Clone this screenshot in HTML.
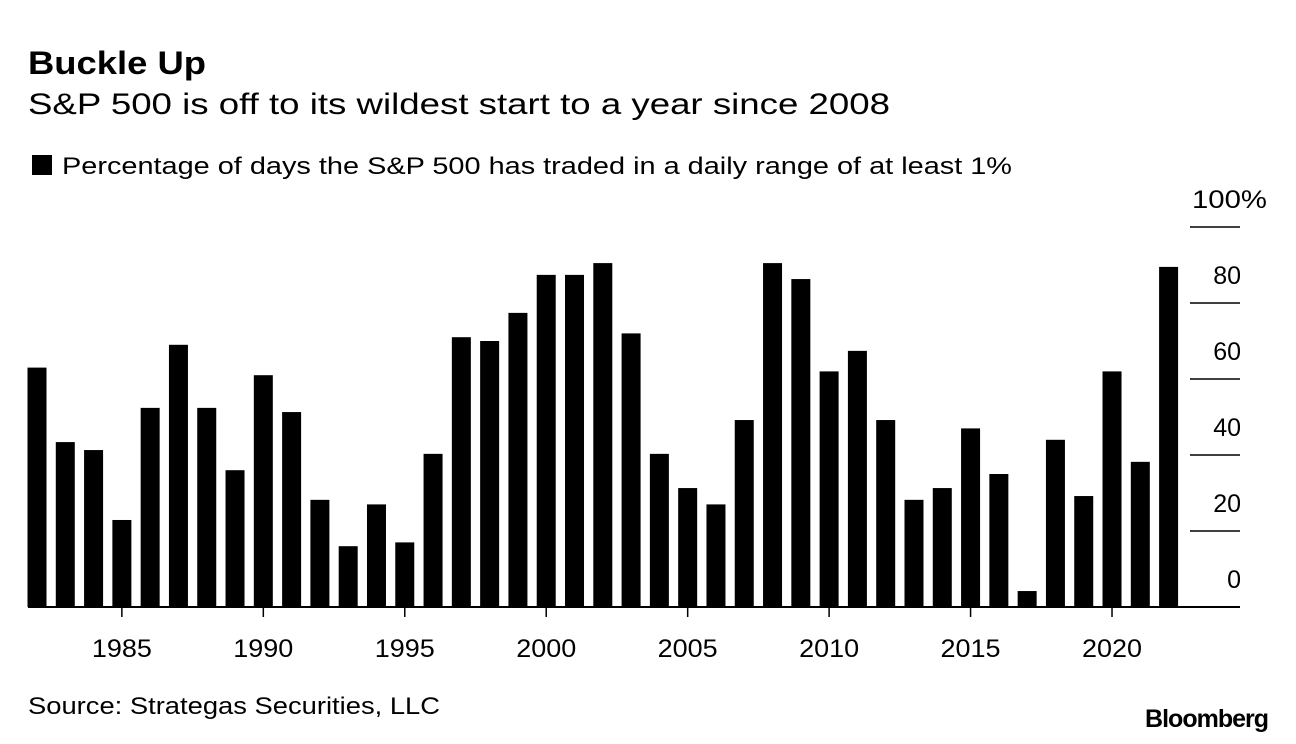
<!DOCTYPE html>
<html><head><meta charset="utf-8"><style>
body{margin:0;background:#fff;width:1296px;height:744px;overflow:hidden;font-family:"Liberation Sans",sans-serif;}
svg{display:block}
</style></head><body>
<svg id="c" width="1296" height="744">
<text x="28" y="74" font-size="32" font-weight="bold" fill="#000" textLength="178" lengthAdjust="spacingAndGlyphs">Buckle Up</text>
<text x="28" y="114" font-size="30" fill="#000" textLength="862" lengthAdjust="spacingAndGlyphs">S&amp;P 500 is off to its wildest start to a year since 2008</text>
<rect x="32" y="155" width="20" height="20" fill="#000"/>
<text x="62" y="174" font-size="24" fill="#000" textLength="950" lengthAdjust="spacingAndGlyphs">Percentage of days the S&amp;P 500 has traded in a daily range of at least 1%</text>
<text x="28" y="714" font-size="24" fill="#000" textLength="412" lengthAdjust="spacingAndGlyphs">Source: Strategas Securities, LLC</text>
<text x="1268" y="727" font-size="25" font-weight="bold" text-anchor="end" fill="#000" letter-spacing="-1">Bloomberg</text>
<g id="plot"></g>
</svg>
<script>
const years=[1982,1983,1984,1985,1986,1987,1988,1989,1990,1991,1992,1993,1994,1995,1996,1997,1998,1999,2000,2001,2002,2003,2004,2005,2006,2007,2008,2009,2010,2011,2012,2013,2014,2015,2016,2017,2018,2019,2020,2021,2022];
const values=[63,43.4,41.3,22.9,52.4,69,52.4,36,61,51.3,28.2,16,27,17,40.3,71,70,77.4,87.4,87.4,90.5,72,40.3,31.3,27,49.2,90.5,86.3,62,67.4,49.2,28.2,31.3,47,35,4.2,44,29.2,62,38.2,89.5];
const yTicks=[0,20,40,60,80,100];
const xTicks=[1985,1990,1995,2000,2005,2010,2015,2020];
const NS="http://www.w3.org/2000/svg";
const g=document.getElementById('plot');
function x(yr){return 37+(yr-1982)*28.29;}
function y(v){return 607-v*3.8;}
function mk(t,a){const e=document.createElementNS(NS,t);for(const k in a)e.setAttribute(k,a[k]);g.appendChild(e);return e;}
yTicks.forEach(t=>{
  if(t>0){const l=mk('line',{x1:1190,x2:1240,y1:y(t),y2:y(t),stroke:'#000','stroke-width':1.5});
  
  }
  const tx=mk('text',{x:1241,y:y(t)-19,'font-size':25,'text-anchor':'end',fill:'#000'});
  tx.textContent=t;
  if(t===100){const s=document.createElementNS(NS,'tspan');s.textContent='%';tx.appendChild(s);tx.setAttribute('text-anchor','start');tx.setAttribute('x',1192);tx.setAttribute('textLength',75);tx.setAttribute('lengthAdjust','spacingAndGlyphs');}
  
  
});
years.forEach((yr,i)=>{
  const r=mk('rect',{x:x(yr)-9.5,y:y(values[i]),width:19,height:values[i]*3.8,fill:'#000'});
  
  
});
const b=mk('line',{x1:28,x2:1240,y1:607,y2:607,stroke:'#000','stroke-width':2});


xTicks.forEach(t=>{
  const l=mk('line',{x1:x(t),x2:x(t),y1:607,y2:617,stroke:'#000','stroke-width':1.5});
  
  
  const tx=mk('text',{x:x(t),y:657,'font-size':25,'text-anchor':'middle',fill:'#000',textLength:60,lengthAdjust:'spacingAndGlyphs'});
  tx.textContent=t;
  
  
});
</script>
</body></html>
